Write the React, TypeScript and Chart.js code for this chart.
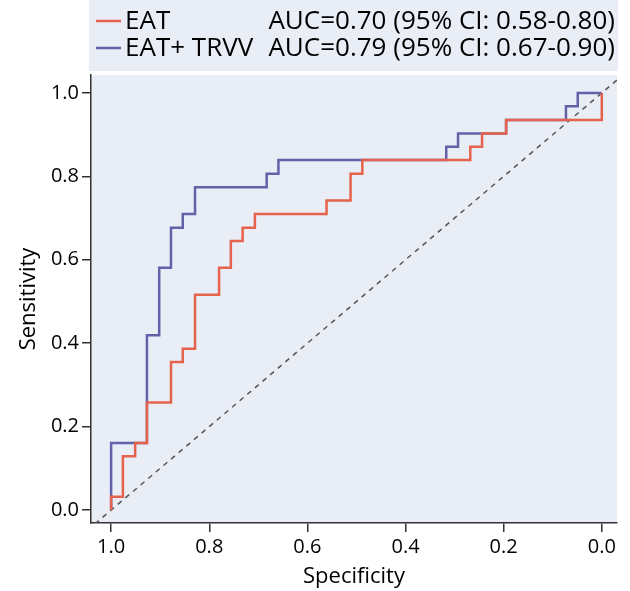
import React, { useEffect, useRef } from "react";
import { Chart, registerables } from "chart.js";

Chart.register(...registerables);

// ---- Data ----
const eatSpec = [1.0, 1.0, 0.976, 0.976, 0.951, 0.951, 0.927, 0.927, 0.878, 0.878, 0.854, 0.854, 0.829, 0.829, 0.78, 0.78, 0.756, 0.756, 0.732, 0.732, 0.707, 0.707, 0.561, 0.561, 0.512, 0.512, 0.488, 0.488, 0.268, 0.268, 0.244, 0.244, 0.195, 0.195, 0.0, 0.0];
const eatSens = [0.0, 0.032, 0.032, 0.129, 0.129, 0.161, 0.161, 0.258, 0.258, 0.355, 0.355, 0.387, 0.387, 0.516, 0.516, 0.581, 0.581, 0.645, 0.645, 0.677, 0.677, 0.71, 0.71, 0.742, 0.742, 0.806, 0.806, 0.839, 0.839, 0.871, 0.871, 0.903, 0.903, 0.935, 0.935, 1.0];

const trvvSpec = [1.0, 1.0, 0.927, 0.927, 0.902, 0.902, 0.878, 0.878, 0.854, 0.854, 0.829, 0.829, 0.683, 0.683, 0.659, 0.659, 0.317, 0.317, 0.293, 0.293, 0.195, 0.195, 0.073, 0.073, 0.049, 0.049, 0.0];
const trvvSens = [0.0, 0.161, 0.161, 0.419, 0.419, 0.581, 0.581, 0.677, 0.677, 0.71, 0.71, 0.774, 0.774, 0.806, 0.806, 0.839, 0.839, 0.871, 0.871, 0.903, 0.903, 0.935, 0.935, 0.968, 0.968, 1.0, 1.0];

const seriesNames = ["EAT", "EAT+ TRVV"];
const aucLabels = ["AUC=0.70 (95% CI: 0.58-0.80)", "AUC=0.79 (95% CI: 0.67-0.90)"];
const xTickValues = [1.0, 0.8, 0.6, 0.4, 0.2, 0.0];
const xTickLabels = ["1.0", "0.8", "0.6", "0.4", "0.2", "0.0"];
const yTickValues = [0.0, 0.2, 0.4, 0.6, 0.8, 1.0];
const yTickLabels = ["0.0", "0.2", "0.4", "0.6", "0.8", "1.0"];
const xTitle = "Specificity";
const yTitle = "Sensitivity";

// ---- Styles ----
const RED = "#e5634c";
const BLUE = "#6262aa";
const BG = "#e9edf6";
const AXIS = "#333333";
const TEXT = "#000000";
const FONT = "'Open Sans', 'Noto Sans', sans-serif";
const X_MIN = -0.031;
const X_MAX = 1.041;
const Y_MIN = -0.031;
const Y_MAX = 1.043;

const toPts = (xs: number[], ys: number[]) => xs.map((x, i) => ({ x, y: ys[i] }));

const bgPlugin = {
  id: "plotBg",
  beforeDraw(chart: any) {
    const { ctx, chartArea } = chart;
    ctx.save();
    ctx.fillStyle = BG;
    ctx.fillRect(chartArea.left, chartArea.top, chartArea.right - chartArea.left, chartArea.bottom - chartArea.top);
    ctx.restore();
  },
};

const legendPlugin = {
  id: "aucLegend",
  afterDraw(chart: any) {
    const { ctx, chartArea } = chart;
    const left = chartArea.left - 2;
    const right = chartArea.right + 1;
    ctx.save();
    ctx.fillStyle = BG;
    ctx.fillRect(left, 0, right - left, 71);
    const rows = [21, 48];
    const colors = [RED, BLUE];
    ctx.font = `26px ${FONT}`;
    ctx.textBaseline = "middle";
    ctx.textAlign = "left";
    rows.forEach((y, i) => {
      ctx.strokeStyle = colors[i];
      ctx.lineWidth = 2.5;
      ctx.beginPath();
      ctx.moveTo(left + 7, y);
      ctx.lineTo(left + 32, y);
      ctx.stroke();
      ctx.fillStyle = TEXT;
      ctx.fillText(seriesNames[i], left + 36, y + 1);
      ctx.textAlign = "right";
      ctx.fillText(aucLabels[i], 615, y + 1);
      ctx.textAlign = "left";
    });
    ctx.restore();
  },
};

export default function App() {
  const ref = useRef<HTMLCanvasElement>(null);
  useEffect(() => {
    if (!ref.current) return;
    const chart = new Chart(ref.current, {
      type: "line",
      data: {
        datasets: [
          {
            label: seriesNames[0],
            data: toPts(eatSpec, eatSens),
            borderColor: RED,
            borderWidth: 2.5,
            pointRadius: 0,
            tension: 0,
            fill: false,
          },
          {
            label: seriesNames[1],
            data: toPts(trvvSpec, trvvSens),
            borderColor: BLUE,
            borderWidth: 2.5,
            pointRadius: 0,
            tension: 0,
            fill: false,
          },
          {
            label: "ref",
            data: [
              { x: X_MAX - 0.008, y: 1 - (X_MAX - 0.008) },
              { x: X_MIN, y: 1 - X_MIN },
            ],
            borderColor: "#555",
            borderWidth: 1.5,
            borderDash: [5, 5],
            pointRadius: 0,
            fill: false,
          },
        ],
      },
      options: {
        animation: false,
        responsive: true,
        maintainAspectRatio: false,
        parsing: false as any,
        layout: { padding: { top: 75, right: 13, left: 0, bottom: 0 } },
        plugins: {
          legend: { display: false },
          tooltip: { enabled: false },
        },
        scales: {
          x: {
            type: "linear",
            reverse: true,
            min: X_MIN,
            max: X_MAX,
            afterFit: (s: any) => {
              s.height = 68;
            },
            afterBuildTicks: (s: any) => {
              s.ticks = xTickValues.map((v) => ({ value: v }));
            },
            ticks: {
              color: TEXT,
              font: { family: FONT, size: 20 },
              padding: 3,
              maxRotation: 0,
              autoSkip: false,
              callback: (v: any) => {
                const i = xTickValues.findIndex((t) => Math.abs(t - v) < 1e-6);
                return i >= 0 ? xTickLabels[i] : "";
              },
            },
            grid: { drawOnChartArea: false, drawTicks: true, tickLength: 9, color: AXIS, lineWidth: 1.5 },
            border: { display: true, color: AXIS, width: 1.5 },
            title: {
              display: true,
              text: xTitle,
              color: TEXT,
              font: { family: FONT, size: 22 },
              padding: { top: 0, bottom: 1 },
            },
          },
          y: {
            type: "linear",
            min: Y_MIN,
            max: Y_MAX,
            afterFit: (s: any) => {
              s.width = 91;
            },
            afterBuildTicks: (s: any) => {
              s.ticks = yTickValues.map((v) => ({ value: v }));
            },
            ticks: {
              color: TEXT,
              font: { family: FONT, size: 20 },
              padding: 3,
              autoSkip: false,
              callback: (v: any) => {
                const i = yTickValues.findIndex((t) => Math.abs(t - v) < 1e-6);
                return i >= 0 ? yTickLabels[i] : "";
              },
            },
            grid: { drawOnChartArea: false, drawTicks: true, tickLength: 9, color: AXIS, lineWidth: 1.5 },
            border: { display: true, color: AXIS, width: 1.5 },
            title: {
              display: true,
              text: yTitle,
              color: TEXT,
              font: { family: FONT, size: 22 },
              padding: { top: 16, bottom: 0 },
            },
          },
        },
      },
      plugins: [bgPlugin, legendPlugin],
    });
    return () => chart.destroy();
  }, []);

  return (
    <div style={{ position: "fixed", left: 0, top: 0, width: 630, height: 591, background: "#fff" }}>
      <canvas ref={ref} />
    </div>
  );
}
